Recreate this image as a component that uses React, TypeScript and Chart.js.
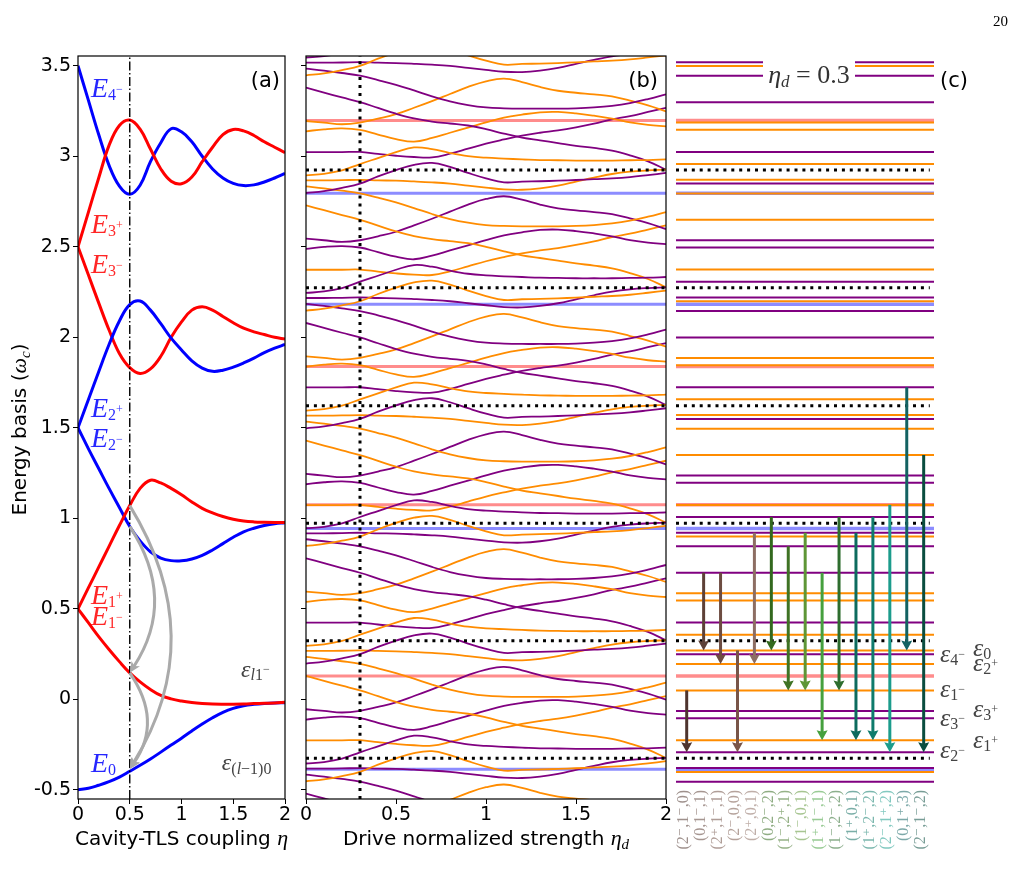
import React, { useEffect, useRef } from "react";
import { Chart, registerables } from "chart.js";

Chart.register(...registerables);

const SANS = '"DejaVu Sans", "Liberation Sans", sans-serif';
const SERIF = '"Liberation Serif", "DejaVu Serif", serif';
const PURPLE = "#800080";
const ORANGE = "#ff8c00";
const RED = "#ff0000";
const BLUE = "#0000ff";

// ---------- shared axes ----------
const energyTickValues = [-0.5, 0, 0.5, 1, 1.5, 2, 2.5, 3, 3.5];
const energyTickLabels = ["-0.5", "0", "0.5", "1", "1.5", "2", "2.5", "3", "3.5"];
const etaTickValues = [0, 0.5, 1, 1.5, 2];
const etaTickLabels = ["0", "0.5", "1", "1.5", "2"];
const ENERGY_MIN = -0.551;
const ENERGY_MAX = 3.554;
const ENERGY_MIN_C = -0.49;

// ---------- panel (a): energies vs cavity-TLS coupling ----------
const couplingEta = [0, 0.1, 0.2, 0.3, 0.4, 0.5, 0.6, 0.7, 0.8, 0.9, 1, 1.1, 1.2, 1.3, 1.4, 1.5, 1.6, 1.7, 1.8, 1.9, 2];
const levelE0 = [-0.5, -0.492, -0.475, -0.455, -0.43, -0.398, -0.365, -0.33, -0.292, -0.253, -0.215, -0.175, -0.137, -0.102, -0.072, -0.05, -0.036, -0.028, -0.023, -0.02, -0.019];
const levelE1m = [0.5, 0.423, 0.346, 0.275, 0.208, 0.146, 0.096, 0.054, 0.021, 0.002, -0.01, -0.018, -0.023, -0.026, -0.027, -0.027, -0.026, -0.024, -0.022, -0.02, -0.017];
const levelE1p = [0.5, 0.615, 0.73, 0.845, 0.96, 1.07, 1.165, 1.21, 1.195, 1.165, 1.13, 1.09, 1.055, 1.03, 1.01, 0.995, 0.985, 0.98, 0.978, 0.977, 0.977];
const levelE2m = [1.5, 1.385, 1.275, 1.165, 1.06, 0.955, 0.875, 0.815, 0.78, 0.766, 0.765, 0.775, 0.795, 0.825, 0.86, 0.895, 0.925, 0.945, 0.96, 0.97, 0.975];
const levelE2p = [1.5, 1.655, 1.81, 1.96, 2.09, 2.18, 2.2, 2.15, 2.075, 1.995, 1.93, 1.87, 1.83, 1.812, 1.818, 1.835, 1.858, 1.885, 1.915, 1.94, 1.96];
const levelE3m = [2.5, 2.345, 2.19, 2.04, 1.91, 1.832, 1.8, 1.825, 1.895, 2.0, 2.085, 2.15, 2.168, 2.15, 2.115, 2.08, 2.05, 2.03, 2.015, 2.0, 1.99];
const levelE3p = [2.5, 2.69, 2.88, 3.06, 3.17, 3.2, 3.15, 3.04, 2.93, 2.862, 2.848, 2.885, 2.97, 3.05, 3.12, 3.148, 3.14, 3.115, 3.08, 3.05, 3.02];
const levelE4m = [3.5, 3.31, 3.12, 2.95, 2.835, 2.79, 2.84, 2.97, 3.075, 3.152, 3.135, 3.08, 3.0, 2.93, 2.88, 2.85, 2.838, 2.842, 2.858, 2.88, 2.905];
const couplingCut = 0.5;
// relaxation arcs at the cut: start level, end level, bulge of the arc (coupling units)
const arcFrom = [1.07, 0.955, 0.146];
const arcTo = [-0.385, 0.146, -0.385];
const arcBulge = [1.28, 0.96, 0.82];

// ---------- panel (b): quasi-energies vs drive strength ----------
const driveEta = [0, 0.1, 0.2, 0.3, 0.4, 0.5, 0.6, 0.7, 0.8, 0.9, 1, 1.1, 1.2, 1.3, 1.4, 1.5, 1.6, 1.7, 1.8, 1.9, 2];
const quasiA = [1.497, 1.508, 1.526, 1.549, 1.589, 1.624, 1.653, 1.663, 1.641, 1.608, 1.578, 1.556, 1.56, 1.562, 1.565, 1.569, 1.574, 1.578, 1.585, 1.596, 1.608];
const quasiB = [1.595, 1.603, 1.622, 1.657, 1.69, 1.723, 1.749, 1.74, 1.718, 1.701, 1.692, 1.687, 1.683, 1.679, 1.678, 1.676, 1.676, 1.676, 1.678, 1.679, 1.683];
const quasiC = [1.567, 1.567, 1.568, 1.57, 1.567, 1.565, 1.561, 1.556, 1.549, 1.538, 1.527, 1.517, 1.515, 1.523, 1.538, 1.56, 1.582, 1.602, 1.615, 1.622, 1.626];
const quasiD = [1.534, 1.523, 1.51, 1.495, 1.471, 1.445, 1.414, 1.381, 1.353, 1.333, 1.32, 1.315, 1.313, 1.313, 1.313, 1.315, 1.32, 1.329, 1.344, 1.366, 1.392];
const quasiE = [1.429, 1.402, 1.375, 1.349, 1.317, 1.285, 1.259, 1.242, 1.231, 1.22, 1.2, 1.175, 1.153, 1.138, 1.123, 1.108, 1.096, 1.081, 1.055, 1.022, 0.976];
const quasiF = [1.245, 1.236, 1.227, 1.236, 1.258, 1.283, 1.318, 1.355, 1.394, 1.433, 1.464, 1.479, 1.46, 1.433, 1.412, 1.401, 1.392, 1.381, 1.357, 1.331, 1.298];
const quasiG = [1.188, 1.199, 1.204, 1.196, 1.17, 1.145, 1.131, 1.151, 1.18, 1.208, 1.237, 1.263, 1.28, 1.293, 1.295, 1.287, 1.274, 1.258, 1.237, 1.223, 1.215];
const quasiH = [1.073, 1.073, 1.073, 1.074, 1.063, 1.053, 1.046, 1.044, 1.064, 1.092, 1.12, 1.143, 1.164, 1.18, 1.193, 1.21, 1.23, 1.254, 1.272, 1.295, 1.318];
const quasiColors = [PURPLE, ORANGE, ORANGE, ORANGE, ORANGE, PURPLE, PURPLE, ORANGE];
const driveQuantum = 0.65; // Floquet zone width: the ladder repeats every quantum, colours alternate
const ladderOrders = [-3, -2, -1, 0, 1, 2, 3];
const resonanceLevels = [2.924, 2.274, 1.622, 0.972, 0.324, -0.326];
const redReferenceLevels = [3.197, 1.838, 1.075, 0.129];
const blueReferenceLevels = [2.796, 2.182, 0.943, -0.387];
const driveCut = 0.3;

// ---------- panel (c): levels at the cut and transitions ----------
const transitionLabels = ["(2⁻,1⁻,0)", "(0,1⁻,1)", "(2⁺,1⁻,1)", "(2⁻,0,0)", "(2⁺,0,1)", "(0,2⁻,2)", "(1⁻,2⁺,1)", "(1⁻,0,1)", "(1⁺,1⁻,1)", "(1⁻,2⁻,2)", "(1⁺,0,1)", "(1⁺,2⁻,2)", "(2⁻,1⁺,2)", "(0,1⁺,3)", "(2⁻,1⁻,2)"];
const transitionFrom = [0.049, 0.699, 0.699, 0.27, 0.92, 1.007, 0.845, 0.92, 0.699, 1.007, 0.92, 1.007, 1.074, 1.724, 1.349];
const transitionTo = [-0.293, 0.27, 0.195, -0.293, 0.195, 0.27, 0.049, 0.049, -0.226, 0.049, -0.226, -0.226, -0.293, 0.27, -0.293];
const transitionColors = ["#4e342e", "#5d4037", "#6d4c41", "#795548", "#8d6e63", "#33691e", "#3f7324", "#5e9636", "#46a03e", "#2e6d2e", "#0d6b5e", "#0f7b6c", "#1c9c8c", "#136262", "#0a4d3f"];

// ---------- helpers ----------
type Run = { t: string; f: string; dy?: number };
function drawRuns(ctx: any, runs: Run[], x: number, y: number, align: string, color: string) {
  let w = 0;
  for (const r of runs) { ctx.font = r.f; w += ctx.measureText(r.t).width; }
  let cx = align === "center" ? x - w / 2 : align === "right" ? x - w : x;
  ctx.textAlign = "left";
  ctx.textBaseline = "alphabetic";
  ctx.fillStyle = color;
  for (const r of runs) {
    ctx.font = r.f;
    ctx.fillText(r.t, cx, y + (r.dy || 0));
    cx += ctx.measureText(r.t).width;
  }
}
const series = (xs: number[], ys: number[], color: string, width: number) => ({
  data: xs.map((x, i) => ({ x, y: ys[i] })),
  borderColor: color, borderWidth: width, pointRadius: 0, fill: false,
  tension: 0.4, clip: 0,
});
const hLine = (x0: number, x1: number, v: number, color: string, width: number, dash: number[] = []) => ({
  data: [{ x: x0, y: v }, { x: x1, y: v }],
  borderColor: color, borderWidth: width, borderDash: dash, borderCapStyle: "butt",
  pointRadius: 0, fill: false, clip: 0,
});
const vLine = (x: number, color: string, width: number, dash: number[]) => ({
  data: [{ x, y: ENERGY_MIN }, { x, y: ENERGY_MAX }],
  borderColor: color, borderWidth: width, borderDash: dash, borderCapStyle: "butt",
  pointRadius: 0, fill: false, clip: 0,
});
const swapColor = (c: string) => (c === PURPLE ? ORANGE : PURPLE);
const DOTS = [3, 4.9];

function energyAxis(showLabels: boolean, width: number) {
  return {
    type: "linear", min: ENERGY_MIN, max: ENERGY_MAX,
    afterBuildTicks: (s: any) => { s.ticks = energyTickValues.map((v) => ({ value: v })); },
    afterFit: (s: any) => { s.width = width; },
    ticks: {
      display: showLabels,
      callback: (v: number) => energyTickLabels[energyTickValues.indexOf(v)],
      font: { family: SANS, size: 19 }, color: "#000", padding: 2,
    },
    grid: { display: true, drawOnChartArea: false, drawTicks: true, tickLength: 5, color: "#000" },
    border: { display: false },
  };
}
function etaAxis() {
  return {
    type: "linear", min: 0, max: 2,
    afterBuildTicks: (s: any) => { s.ticks = etaTickValues.map((v) => ({ value: v })); },
    afterFit: (s: any) => { s.height = 40; },
    ticks: {
      callback: (v: number) => etaTickLabels[etaTickValues.indexOf(v)],
      font: { family: SANS, size: 19 }, color: "#000", padding: 0, maxRotation: 0, autoSkip: false,
    },
    grid: { display: true, drawOnChartArea: false, drawTicks: true, tickLength: 5, color: "#000" },
    border: { display: false },
  };
}
function frame(chart: any) {
  const { ctx, chartArea: a } = chart;
  ctx.save();
  ctx.strokeStyle = "#000";
  ctx.lineWidth = 1.2;
  ctx.strokeRect(a.left, a.top, a.right - a.left, a.bottom - a.top);
  ctx.restore();
}
const baseOptions = {
  animation: false, responsive: false, maintainAspectRatio: false, events: [],
  plugins: { legend: { display: false }, tooltip: { enabled: false } },
};

// ---------- panel (a) ----------
const energyTags = [
  { n: "4", s: "−", v: 3.33, c: "rgba(0,0,255,0.85)" },
  { n: "3", s: "+", v: 2.576, c: "rgba(255,0,0,0.85)" },
  { n: "3", s: "−", v: 2.355, c: "rgba(255,0,0,0.85)" },
  { n: "2", s: "+", v: 1.559, c: "rgba(0,0,255,0.85)" },
  { n: "2", s: "−", v: 1.393, c: "rgba(0,0,255,0.85)" },
  { n: "1", s: "+", v: 0.527, c: "rgba(255,0,0,0.85)" },
  { n: "1", s: "−", v: 0.41, c: "rgba(255,0,0,0.85)" },
  { n: "0", s: "", v: -0.402, c: "rgba(0,0,255,0.85)" },
];

const panelAPlugin = {
  id: "panelA",
  afterDatasetsDraw(chart: any) {
    const { ctx, chartArea: a, scales } = chart;
    const xs = scales.x, ys = scales.y;
    ctx.save();
    ctx.beginPath();
    ctx.rect(a.left, a.top, a.right - a.left, a.bottom - a.top);
    ctx.clip();
    ctx.strokeStyle = "#aaaaaa";
    ctx.fillStyle = "#aaaaaa";
    ctx.lineWidth = 3;
    arcFrom.forEach((v0, i) => {
      const x0 = xs.getPixelForValue(couplingCut), y0 = ys.getPixelForValue(v0);
      const x2 = x0, y2 = ys.getPixelForValue(arcTo[i]);
      const x1 = xs.getPixelForValue(arcBulge[i]), y1 = (y0 + y2) / 2;
      const dx = x2 - x1, dy = y2 - y1, L = Math.hypot(dx, dy);
      const ux = dx / L, uy = dy / L;
      const hl = 11, hw = 5;
      ctx.beginPath();
      ctx.moveTo(x0, y0);
      ctx.quadraticCurveTo(x1, y1, x2 - ux * hl * 0.7, y2 - uy * hl * 0.7);
      ctx.stroke();
      ctx.beginPath();
      ctx.moveTo(x2, y2);
      ctx.lineTo(x2 - ux * hl - uy * hw, y2 - uy * hl + ux * hw);
      ctx.lineTo(x2 - ux * hl * 0.75, y2 - uy * hl * 0.75);
      ctx.lineTo(x2 - ux * hl + uy * hw, y2 - uy * hl - ux * hw);
      ctx.closePath();
      ctx.fill();
    });
    ctx.restore();
    frame(chart);
  },
  afterDraw(chart: any) {
    const { ctx, chartArea: a, scales } = chart;
    const xs = scales.x, ys = scales.y;
    ctx.save();
    energyTags.forEach((t) => {
      const runs: Run[] = [
        { t: "E", f: `italic 28px ${SERIF}` },
        { t: t.n, f: `16px ${SERIF}`, dy: 3 },
      ];
      if (t.s) runs.push({ t: t.s, f: `12px ${SERIF}`, dy: -4 });
      drawRuns(ctx, runs, xs.getPixelForValue(0.125), ys.getPixelForValue(t.v), "left", t.c);
    });
    drawRuns(ctx, [
      { t: "ε", f: `italic 24px ${SERIF}` },
      { t: "l", f: `italic 16px ${SERIF}`, dy: 3 },
      { t: "1", f: `16px ${SERIF}`, dy: 3 },
      { t: "−", f: `12px ${SERIF}`, dy: -4 },
    ], xs.getPixelForValue(1.575), ys.getPixelForValue(0.123), "left", "#444");
    drawRuns(ctx, [
      { t: "ε", f: `italic 24px ${SERIF}` },
      { t: "(", f: `16px ${SERIF}`, dy: 4 },
      { t: "l", f: `italic 16px ${SERIF}`, dy: 4 },
      { t: "−1)0", f: `16px ${SERIF}`, dy: 4 },
    ], xs.getPixelForValue(1.39), ys.getPixelForValue(-0.39), "left", "#444");
    drawRuns(ctx, [{ t: "(a)", f: `21px ${SANS}` }], a.right - 5, 87, "right", "#000");
    drawRuns(ctx, [
      { t: "Cavity-TLS coupling ", f: `20px ${SANS}` },
      { t: "η", f: `italic 22px ${SERIF}` },
    ], (a.left + a.right) / 2, 845, "center", "#000");
    ctx.translate(26, (a.top + a.bottom) / 2 + 2);
    ctx.rotate(-Math.PI / 2);
    drawRuns(ctx, [
      { t: "Energy basis (", f: `20px ${SANS}` },
      { t: "ω", f: `italic 22px ${SERIF}` },
      { t: "c", f: `italic 15px ${SERIF}`, dy: 4 },
      { t: ")", f: `20px ${SANS}` },
    ], 0, 0, "center", "#000");
    ctx.restore();
  },
};

function configA(): any {
  const curves = [
    series(couplingEta, levelE1m, RED, 3),
    series(couplingEta, levelE0, BLUE, 3),
    series(couplingEta, levelE1p, RED, 3),
    series(couplingEta, levelE2m, BLUE, 3),
    series(couplingEta, levelE2p, BLUE, 3),
    series(couplingEta, levelE3m, RED, 3),
    series(couplingEta, levelE3p, RED, 3),
    series(couplingEta, levelE4m, BLUE, 3),
  ];
  return {
    type: "line",
    data: { datasets: [vLine(couplingCut, "#000", 1.4, [9, 2.5, 1.5, 2.5]), ...curves] },
    options: {
      ...baseOptions,
      layout: { padding: { top: 56, right: 15, bottom: 51, left: 0 } },
      scales: { x: etaAxis(), y: energyAxis(true, 78) },
    },
    plugins: [panelAPlugin],
  };
}

// ---------- panel (b) ----------
const quasiFamilies = [quasiA, quasiB, quasiC, quasiD, quasiE, quasiF, quasiG, quasiH];

const panelBPlugin = {
  id: "panelB",
  afterDatasetsDraw(chart: any) { frame(chart); },
  afterDraw(chart: any) {
    const { ctx, chartArea: a } = chart;
    ctx.save();
    drawRuns(ctx, [{ t: "(b)", f: `21px ${SANS}` }], a.right - 8, 87, "right", "#000");
    drawRuns(ctx, [
      { t: "Drive normalized strength ", f: `20px ${SANS}` },
      { t: "η", f: `italic 22px ${SERIF}` },
      { t: "d", f: `italic 15px ${SERIF}`, dy: 4 },
    ], (a.left + a.right) / 2, 845, "center", "#000");
    ctx.restore();
  },
};

function configB(): any {
  const curves: any[] = [];
  quasiFamilies.forEach((fam, f) => {
    ladderOrders.forEach((k) => {
      const color = k % 2 === 0 ? quasiColors[f] : swapColor(quasiColors[f]);
      curves.push(series(driveEta, fam.map((v) => v + k * driveQuantum), color, 1.8));
    });
  });
  const dotted = resonanceLevels.map((v) => hLine(0, 2, v, "#000", 3, DOTS));
  const refs = [
    ...redReferenceLevels.map((v) => hLine(0, 2, v, "rgba(255,0,0,0.45)", 3)),
    ...blueReferenceLevels.map((v) => hLine(0, 2, v, "rgba(0,0,255,0.45)", 3)),
  ];
  return {
    type: "line",
    data: { datasets: [...dotted, vLine(driveCut, "#000", 3, DOTS), ...curves, ...refs] },
    options: {
      ...baseOptions,
      layout: { padding: { top: 56, right: 14, bottom: 51, left: 0 } },
      scales: { x: etaAxis(), y: energyAxis(false, 16) },
    },
    plugins: [panelBPlugin],
  };
}

// ---------- panel (c) ----------
const C_LEFT = 668;
const C_XMIN = -0.632;
const C_XMAX = 14.61;
const epsTags = [
  { n: "4", s: "−", col: 0, v: 0.206 },
  { n: "0", s: "", col: 1, v: 0.239 },
  { n: "2", s: "+", col: 1, v: 0.156 },
  { n: "1", s: "−", col: 0, v: 0.013 },
  { n: "3", s: "−", col: 0, v: -0.147 },
  { n: "3", s: "+", col: 1, v: -0.098 },
  { n: "2", s: "−", col: 0, v: -0.324 },
  { n: "1", s: "+", col: 1, v: -0.269 },
];

const panelCPlugin = {
  id: "panelC",
  afterDatasetsDraw(chart: any) {
    const { ctx, scales } = chart;
    const xs = scales.x, ys = scales.y;
    ctx.save();
    transitionFrom.forEach((v0, i) => {
      const px = xs.getPixelForValue(i);
      const y0 = ys.getPixelForValue(v0);
      const y1 = ys.getPixelForValue(transitionTo[i]);
      const hl = 10, hw = 5.5;
      ctx.strokeStyle = transitionColors[i];
      ctx.fillStyle = transitionColors[i];
      ctx.lineWidth = 3;
      ctx.beginPath();
      ctx.moveTo(px, y0);
      ctx.lineTo(px, y1 - hl + 2);
      ctx.stroke();
      ctx.beginPath();
      ctx.moveTo(px, y1);
      ctx.lineTo(px - hw, y1 - hl);
      ctx.lineTo(px, y1 - hl + 1.5);
      ctx.lineTo(px + hw, y1 - hl);
      ctx.closePath();
      ctx.fill();
    });
    ctx.restore();
  },
  afterDraw(chart: any) {
    const { ctx, chartArea: a, scales } = chart;
    const xs = scales.x, ys = scales.y;
    ctx.save();
    // transition labels under the levels
    transitionLabels.forEach((lab, i) => {
      ctx.save();
      ctx.translate(xs.getPixelForValue(i) - 3, a.bottom + 2);
      ctx.rotate(-Math.PI / 2);
      ctx.font = `16px ${SERIF}`;
      ctx.textAlign = "right";
      ctx.textBaseline = "middle";
      ctx.globalAlpha = 0.55;
      ctx.fillStyle = transitionColors[i];
      ctx.fillText(lab, 0, 0);
      ctx.restore();
    });
    // level names on the right
    epsTags.forEach((t) => {
      const runs: Run[] = [
        { t: "ε", f: `italic 26px ${SERIF}` },
        { t: t.n, f: `16px ${SERIF}`, dy: 3 },
      ];
      if (t.s) runs.push({ t: t.s, f: `12px ${SERIF}`, dy: -4 });
      drawRuns(ctx, runs, a.right + (t.col === 0 ? 6 : 39), ys.getPixelForValue(t.v), "left", "#444");
    });
    // drive label box
    ctx.fillStyle = "#fff";
    ctx.fillRect(763 - C_LEFT, 60, 92, 28);
    drawRuns(ctx, [
      { t: "η", f: `italic 26px ${SERIF}` },
      { t: "d", f: `italic 17px ${SERIF}`, dy: 4 },
      { t: " = 0.3", f: `26px ${SERIF}` },
    ], 809 - C_LEFT, 83, "center", "#333");
    drawRuns(ctx, [{ t: "(c)", f: `21px ${SANS}` }], a.right + 6, 87, "left", "#000");
    ctx.restore();
  },
};

function configC(): any {
  const cut = driveEta.indexOf(driveCut);
  const levels: any[] = [];
  quasiFamilies.forEach((fam, f) => {
    ladderOrders.forEach((k) => {
      const v = fam[cut] + k * driveQuantum;
      if (v < ENERGY_MIN_C || v > ENERGY_MAX) return;
      const color = k % 2 === 0 ? quasiColors[f] : swapColor(quasiColors[f]);
      levels.push(hLine(C_XMIN, C_XMAX, v, color, 2));
    });
  });
  const dotted = resonanceLevels.map((v) => hLine(C_XMIN, C_XMAX - 0.25, v, "#000", 3, DOTS));
  const refs = [
    ...redReferenceLevels.map((v) => hLine(C_XMIN, C_XMAX, v, "rgba(255,0,0,0.45)", 3.5)),
    ...blueReferenceLevels.map((v) => hLine(C_XMIN, C_XMAX, v, "rgba(0,0,255,0.45)", 3.5)),
  ];
  return {
    type: "line",
    data: { datasets: [...dotted, ...levels, ...refs] },
    options: {
      ...baseOptions,
      layout: { padding: { top: 56, right: 84, bottom: 102, left: 8 } },
      scales: {
        x: { type: "linear", min: C_XMIN, max: C_XMAX, display: false },
        y: { type: "linear", min: ENERGY_MIN_C, max: ENERGY_MAX, display: false },
      },
    },
    plugins: [panelCPlugin],
  };
}

export default function App() {
  const refA = useRef<HTMLCanvasElement>(null);
  const refB = useRef<HTMLCanvasElement>(null);
  const refC = useRef<HTMLCanvasElement>(null);
  useEffect(() => {
    const charts = [
      new Chart(refA.current as HTMLCanvasElement, configA()),
      new Chart(refB.current as HTMLCanvasElement, configB()),
      new Chart(refC.current as HTMLCanvasElement, configC()),
    ];
    return () => charts.forEach((c) => c.destroy());
  }, []);
  const abs = (left: number, width: number) => ({ position: "absolute" as const, left, top: 0, width, height: 890 });
  return (
    <div style={{ position: "absolute", left: 0, top: 0, width: 1018, height: 890, background: "#fff", overflow: "hidden" }}>
      <canvas ref={refA} width={300} height={890} style={abs(0, 300)} />
      <canvas ref={refB} width={390} height={890} style={abs(290, 390)} />
      <canvas ref={refC} width={350} height={890} style={abs(C_LEFT, 350)} />
      <div style={{ position: "absolute", left: 993, top: 13, font: `15px ${SERIF}`, color: "#000" }}>20</div>
    </div>
  );
}
